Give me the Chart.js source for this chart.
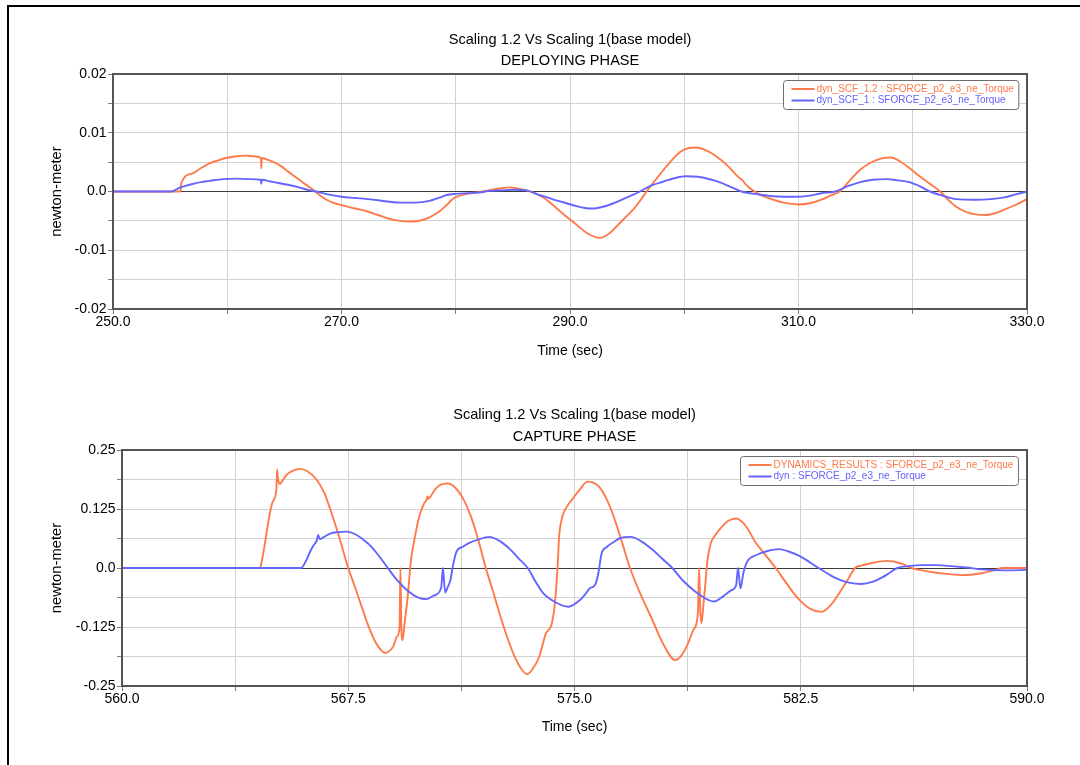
<!DOCTYPE html>
<html>
<head>
<meta charset="utf-8">
<title>Scaling 1.2 Vs Scaling 1(base model)</title>
<script src="https://cdn.jsdelivr.net/npm/chart.js@4.4.1/dist/chart.umd.min.js"></script>
<style>
  html, body { margin: 0; padding: 0; width: 1080px; height: 765px; overflow: hidden; background: #fff; }
  #frame { position: absolute; left: 7px; top: 5px; width: 1200px; height: 900px; border: 2px solid #000; }
  canvas { position: absolute; left: 0; }
  #deploy { top: 0; }
  #capture { top: 380px; }
</style>
</head>
<body>
<div id="frame"></div>
<canvas id="deploy" width="1080" height="380"></canvas>
<canvas id="capture" width="1080" height="385"></canvas>
<script>
// ---- text ----
const deployTitle = ['Scaling 1.2 Vs Scaling 1(base model)', 'DEPLOYING PHASE'];
const captureTitle = ['Scaling 1.2 Vs Scaling 1(base model)', 'CAPTURE PHASE'];
const timeAxisTitle = 'Time (sec)';
const torqueAxisTitle = 'newton-meter';

// ---- tick values and their labels ----
const deployXTicks = [250, 260, 270, 280, 290, 300, 310, 320, 330];
const deployXLabels = ['250.0', '', '270.0', '', '290.0', '', '310.0', '', '330.0'];
const deployYTicks = [-0.02, -0.015, -0.01, -0.005, 0, 0.005, 0.01, 0.015, 0.02];
const deployYLabels = ['-0.02', '', '-0.01', '', '0.0', '', '0.01', '', '0.02'];

const captureXTicks = [560, 563.75, 567.5, 571.25, 575, 578.75, 582.5, 586.25, 590];
const captureXLabels = ['560.0', '', '567.5', '', '575.0', '', '582.5', '', '590.0'];
const captureYTicks = [-0.25, -0.1875, -0.125, -0.0625, 0, 0.0625, 0.125, 0.1875, 0.25];
const captureYLabels = ['-0.25', '', '-0.125', '', '0.0', '', '0.125', '', '0.25'];

// ---- deploying phase: torque (newton-meter) vs time (sec) ----
const deployLabel12 = 'dyn_SCF_1.2 : SFORCE_p2_e3_ne_Torque';
const deployTime12 = [
  250, 255.2, 255.9, 255.97, 256.98, 257.7, 258.45, 259.2, 259.9, 260.8,
  261.66, 262.3, 262.95, 262.98, 263.02, 263.8, 264.57, 265.4, 266.3, 267.0,
  267.7, 268.2, 268.7, 269.4, 270.2, 271.2, 272.3, 273.2, 274.1, 275.1,
  276.1, 277.0, 277.7, 278.5, 279.2, 279.8, 280.2, 281.0, 282.0, 282.9,
  283.8, 284.7, 285.5, 286.2, 287.3, 288.0, 288.8, 289.7, 290.6, 291.5,
  292.6, 293.4, 294.2, 295.0, 295.6, 296.2, 296.7, 297.5, 298.2, 299.0,
  299.7, 300.4, 301.1, 301.8, 302.4, 303.2, 303.9, 304.6, 305.2, 305.3,
  305.6, 306.0, 306.5, 307.2, 307.8, 308.7, 310.0, 311.0, 312.0, 312.8,
  313.6, 314.5, 315.4, 316.3, 317.2, 318.1, 318.9, 319.7, 320.6, 321.5,
  322.4, 323.1, 323.8, 324.7, 325.5, 326.4, 327.2, 328.0, 329.0, 330.0];
const deployTorque12 = [
  0, 0, 0, 0.0014, 0.0031, 0.0040, 0.0048, 0.0053, 0.0057, 0.0060,
  0.0061, 0.0060, 0.0057, 0.0039, 0.0057, 0.0052, 0.0045, 0.0033, 0.0020, 0.0010,
  0, -0.0008, -0.0014, -0.0020, -0.0024, -0.0029, -0.0034, -0.0040, -0.0046, -0.0050,
  -0.0051, -0.0049, -0.0044, -0.0035, -0.0023, -0.0012, -0.0008, -0.0004, -0.0001, 0.0002,
  0.0005, 0.0007, 0.0005, 0.0002, -0.0006, -0.0015, -0.0028, -0.0043, -0.0057, -0.0071,
  -0.0079, -0.0072, -0.0057, -0.0041, -0.0029, -0.0014, 0, 0.0020, 0.0037, 0.0055,
  0.0068, 0.0074, 0.0075, 0.0071, 0.0065, 0.0054, 0.0042, 0.0027, 0.0017, 0.0014,
  0.0008, 0.0002, -0.0004, -0.0010, -0.0014, -0.0019, -0.0022, -0.0020, -0.0014, -0.0007,
  0, 0.0019, 0.0037, 0.0049, 0.0056, 0.0058, 0.0051, 0.0040, 0.0026, 0.0013,
  0, -0.0014, -0.0026, -0.0035, -0.0039, -0.0040, -0.0037, -0.0031, -0.0023, -0.0013];

const deployLabel1 = 'dyn_SCF_1 : SFORCE_p2_e3_ne_Torque';
const deployTime1 = [
  250, 255.1, 255.5, 255.8, 256.4, 257.0, 257.7, 258.45, 259.6, 260.8,
  261.9, 262.95, 262.98, 263.02, 263.8, 264.57, 265.4, 266.3, 267.0, 267.8,
  268.8, 270.0, 271.2, 272.3, 273.2, 274.0, 275.3, 276.5, 277.7, 278.5,
  279.2, 280.0, 281.0, 282.0, 283.0, 284.0, 285.0, 286.2, 287.3, 288.0,
  288.8, 289.7, 290.6, 291.3, 292.0, 292.9, 293.8, 294.4, 295.0, 295.6,
  296.1, 297.1, 298.2, 299.2, 300.1, 301.2, 302.4, 303.2, 303.9, 304.5,
  305.0, 306.5, 307.8, 309.6, 311.0, 312.0, 313.2, 314.3, 315.4, 316.5,
  317.7, 318.7, 319.7, 320.6, 321.5, 322.6, 323.8, 325.5, 326.8, 328.0,
  329.0, 330.0];
const deployTorque1 = [
  0, 0, 0.0003, 0.0006, 0.0010, 0.0013, 0.0016, 0.0018, 0.0021, 0.0022,
  0.0021, 0.0020, 0.0013, 0.0020, 0.0017, 0.0014, 0.0011, 0.0007, 0.0003, 0,
  -0.0005, -0.0009, -0.0011, -0.0013, -0.0015, -0.0017, -0.0019, -0.0019, -0.0016, -0.0011,
  -0.0006, -0.0004, -0.0003, -0.0002, 0.0001, 0.0002, 0.0003, 0.0002, -0.0006, -0.0010,
  -0.0015, -0.0020, -0.0025, -0.0028, -0.0029, -0.0026, -0.0020, -0.0015, -0.0010, -0.0005,
  0, 0.0010, 0.0017, 0.0023, 0.0026, 0.0025, 0.0020, 0.0015, 0.0009, 0.0004,
  0, -0.0005, -0.0008, -0.0009, -0.0007, -0.0003, 0, 0.0009, 0.0016, 0.0020,
  0.0021, 0.0019, 0.0016, 0.0009, 0, -0.0007, -0.0013, -0.0014, -0.0013, -0.0010,
  -0.0005, 0];

// ---- capture phase ----
const captureLabelResults = 'DYNAMICS_RESULTS : SFORCE_p2_e3_ne_Torque';
const captureTimeResults = [
  560, 564.57, 564.65, 564.73, 564.81, 564.89, 565.0, 565.12, 565.14, 565.17,
  565.22, 565.3, 565.45, 565.65, 565.9, 566.15, 566.45, 566.7, 566.9, 567.2,
  567.5, 567.75, 567.96, 568.2, 568.41, 568.6, 568.73, 568.88, 569.0, 569.12,
  569.2, 569.23, 569.26, 569.3, 569.36, 569.47, 569.58, 569.69, 569.84, 570.0,
  570.1, 570.13, 570.16, 570.35, 570.55, 570.8, 571.05, 571.3, 571.55, 571.8,
  572.06, 572.3, 572.5, 572.75, 573.03, 573.25, 573.43, 573.6, 573.83, 574.05,
  574.25, 574.36, 574.44, 574.49, 574.6, 574.75, 574.93, 575.2, 575.43, 575.62,
  575.82, 576.05, 576.26, 576.55, 576.84, 577.2, 577.56, 577.95, 578.33, 578.55,
  578.75, 578.95, 579.09, 579.13, 579.17, 579.21, 579.27, 579.32, 579.41, 579.52,
  579.67, 579.9, 580.1, 580.35, 580.6, 580.8, 580.98, 581.3, 581.67, 582.0,
  582.4, 582.8, 583.18, 583.5, 583.88, 584.1, 584.3, 584.5, 584.9, 585.36,
  585.8, 586.17, 586.6, 587.0, 587.87, 588.5, 588.9, 589.2, 590];
const captureTorqueResults = [
  0, 0, 0.020, 0.049, 0.082, 0.112, 0.141, 0.169, 0.208, 0.190,
  0.178, 0.183, 0.197, 0.206, 0.210, 0.205, 0.187, 0.160, 0.125, 0.066,
  0, -0.045, -0.085, -0.128, -0.158, -0.175, -0.180, -0.175, -0.165, -0.145,
  -0.126, 0, -0.125, -0.153, -0.121, -0.061, 0.017, 0.059, 0.106, 0.135,
  0.145, 0.152, 0.147, 0.164, 0.176, 0.179, 0.170, 0.148, 0.112, 0.062,
  0, -0.050, -0.093, -0.143, -0.190, -0.215, -0.225, -0.215, -0.188, -0.139,
  -0.117, -0.068, 0.003, 0.066, 0.109, 0.130, 0.146, 0.168, 0.183, 0.181,
  0.172, 0.148, 0.116, 0.060, 0, -0.057, -0.107, -0.162, -0.195, -0.185,
  -0.162, -0.130, -0.096, 0, -0.090, -0.117, -0.080, -0.047, 0.017, 0.053,
  0.070, 0.088, 0.100, 0.105, 0.095, 0.077, 0.056, 0.030, 0, -0.030,
  -0.064, -0.086, -0.093, -0.078, -0.043, -0.020, 0, 0.005, 0.011, 0.015,
  0.010, 0, -0.006, -0.010, -0.015, -0.011, -0.005, 0, 0];

const captureLabelDyn = 'dyn : SFORCE_p2_e3_ne_Torque';
const captureTimeDyn = [
  560, 565.94, 566.02, 566.1, 566.24, 566.35, 566.46, 566.5, 566.56, 566.7,
  566.9, 567.15, 567.44, 567.75, 568.0, 568.19, 568.5, 568.81, 569.15, 569.5,
  569.8, 570.08, 570.35, 570.58, 570.64, 570.71, 570.8, 570.89, 570.97, 571.09,
  571.3, 571.48, 571.8, 572.17, 572.5, 572.86, 573.15, 573.45, 573.7, 573.97,
  574.35, 574.8, 575.18, 575.35, 575.51, 575.68, 575.79, 575.9, 576.06, 576.3,
  576.5, 576.87, 577.2, 577.6, 577.9, 578.24, 578.6, 579.0, 579.3, 579.62,
  579.95, 580.2, 580.36, 580.42, 580.5, 580.6, 580.72, 581.05, 581.4, 581.77,
  582.1, 582.5, 583.09, 583.5, 583.8, 584.1, 584.5, 584.9, 585.2, 585.45,
  585.7, 586.1, 586.5, 587.0, 587.5, 588.0, 588.5, 589.3, 590];
const captureTorqueDyn = [
  0, 0, 0.006, 0.015, 0.035, 0.048, 0.059, 0.070, 0.061, 0.066,
  0.073, 0.076, 0.077, 0.071, 0.060, 0.050, 0.027, 0, -0.028, -0.050,
  -0.062, -0.066, -0.058, -0.042, 0, -0.052, -0.040, -0.025, 0.005, 0.035,
  0.045, 0.052, 0.060, 0.066, 0.058, 0.040, 0.020, 0, -0.028, -0.054,
  -0.072, -0.082, -0.068, -0.056, -0.043, -0.036, -0.011, 0.031, 0.044, 0.055,
  0.063, 0.066, 0.057, 0.038, 0.020, 0, -0.027, -0.050, -0.063, -0.071,
  -0.059, -0.047, -0.036, 0, -0.043, -0.010, 0.013, 0.028, 0.036, 0.040,
  0.035, 0.024, 0, -0.016, -0.025, -0.031, -0.034, -0.029, -0.020, -0.010,
  0, 0.004, 0.006, 0.006, 0.004, 0.001, -0.003, -0.005, -0.004];

// ---- styling ----
const FONT = '"Liberation Sans", Arial, Helvetica, sans-serif';
const ORANGE = '#ff7a4a';
const BLUE = '#6464ff';

const toPoints = (xs, ys) => xs.map((x, i) => ({ x: x, y: ys[i] }));

// Plot frame, boxed legend inside the plot and the two centred title lines.
const phasePanel = {
  id: 'phasePanel',
  afterDatasetsDraw(chart, args, opts) {
    const { ctx, chartArea: a } = chart;
    ctx.save();
    ctx.strokeStyle = '#555';
    ctx.lineWidth = 2;
    ctx.strokeRect(a.left, a.top, a.right - a.left, a.bottom - a.top);

    const sets = chart.data.datasets;
    ctx.font = '10px ' + FONT;
    const textW = Math.max(...sets.map(d => ctx.measureText(d.label).width));
    const w = 8 + 23 + 2 + textW + 5;
    const h = 29;
    const x = Math.round(a.right - 9 - w) + 0.5;
    const y = Math.round(a.top + 6) + 0.5;
    ctx.beginPath();
    ctx.roundRect(x, y, w, h, 3);
    ctx.fillStyle = '#fff';
    ctx.fill();
    ctx.strokeStyle = '#6e6e6e';
    ctx.lineWidth = 1;
    ctx.stroke();
    sets.forEach((d, i) => {
      const cy = y + 8.5 + i * 11.5;
      ctx.strokeStyle = d.borderColor;
      ctx.lineWidth = 2;
      ctx.beginPath();
      ctx.moveTo(x + 8, cy);
      ctx.lineTo(x + 31, cy);
      ctx.stroke();
      ctx.fillStyle = d.borderColor;
      ctx.textAlign = 'left';
      ctx.textBaseline = 'middle';
      ctx.fillText(d.label, x + 33, cy);
    });
    ctx.restore();
  },
  afterDraw(chart, args, opts) {
    const { ctx, chartArea: a } = chart;
    ctx.save();
    ctx.font = '14.6px ' + FONT;
    ctx.fillStyle = '#000';
    ctx.textAlign = 'center';
    ctx.textBaseline = 'middle';
    const cx = (a.left + a.right) / 2;
    opts.lines.forEach((t, i) => ctx.fillText(t, cx, opts.y[i]));
    ctx.restore();
  }
};

function buildPanel(canvasId, cfg) {
  const tickFont = { family: FONT, size: 14 };
  return new Chart(document.getElementById(canvasId), {
    type: 'line',
    data: {
      datasets: cfg.series.map((s, i) => ({
        label: s.label,
        data: toPoints(s.x, s.y),
        borderColor: s.color,
        backgroundColor: s.color,
        borderWidth: 1.9,
        pointRadius: 0,
        fill: false,
        cubicInterpolationMode: 'monotone',
        order: cfg.series.length - i
      }))
    },
    options: {
      responsive: false,
      animation: false,
      devicePixelRatio: 1,
      layout: { padding: { top: cfg.top, right: 53, bottom: 0, left: 0 } },
      plugins: {
        legend: { display: false },
        tooltip: { enabled: false },
        title: { display: false },
        phasePanel: { lines: cfg.title, y: cfg.titleY }
      },
      scales: {
        x: {
          type: 'linear',
          min: cfg.xTicks[0],
          max: cfg.xTicks[cfg.xTicks.length - 1],
          afterBuildTicks: scale => { scale.ticks = cfg.xTicks.map(v => ({ value: v })); },
          afterFit: scale => { scale.height = cfg.xHeight; },
          ticks: {
            autoSkip: false, maxRotation: 0, padding: 0,
            font: tickFont, color: '#000',
            callback: (v, i) => cfg.xLabels[i]
          },
          grid: { color: '#d2d2d2', lineWidth: 1, drawTicks: true, tickLength: 5, tickColor: '#7a7a7a' },
          border: { display: false },
          title: {
            display: true, text: timeAxisTitle, color: '#000',
            font: { family: FONT, size: 14 },
            padding: { top: 0, bottom: cfg.xTitlePad }
          }
        },
        y: {
          type: 'linear',
          min: cfg.yTicks[0],
          max: cfg.yTicks[cfg.yTicks.length - 1],
          afterBuildTicks: scale => { scale.ticks = cfg.yTicks.map(v => ({ value: v })); },
          afterFit: scale => { scale.width = cfg.yWidth; },
          ticks: {
            autoSkip: false, padding: 1.5,
            font: tickFont, color: '#000',
            callback: (v, i) => cfg.yLabels[i]
          },
          grid: {
            color: c => (c.tick && c.tick.value === 0) ? '#3c3c3c' : '#d2d2d2',
            lineWidth: 1, drawTicks: true, tickLength: 5, tickColor: '#7a7a7a'
          },
          border: { display: false },
          title: {
            display: true, text: torqueAxisTitle, color: '#000',
            font: { family: FONT, size: 14.8 },
            padding: { top: 48.4, bottom: 0 }
          }
        }
      }
    },
    plugins: [phasePanel]
  });
}

buildPanel('deploy', {
  title: deployTitle, titleY: [40, 61],
  top: 74, yWidth: 113, xHeight: 71, xTitlePad: 20.6,
  xTicks: deployXTicks, xLabels: deployXLabels,
  yTicks: deployYTicks, yLabels: deployYLabels,
  series: [
    { label: deployLabel12, x: deployTime12, y: deployTorque12, color: ORANGE },
    { label: deployLabel1, x: deployTime1, y: deployTorque1, color: BLUE }
  ]
});

buildPanel('capture', {
  title: captureTitle, titleY: [35, 57],
  top: 70, yWidth: 122, xHeight: 79, xTitlePad: 29.6,
  xTicks: captureXTicks, xLabels: captureXLabels,
  yTicks: captureYTicks, yLabels: captureYLabels,
  series: [
    { label: captureLabelResults, x: captureTimeResults, y: captureTorqueResults, color: ORANGE },
    { label: captureLabelDyn, x: captureTimeDyn, y: captureTorqueDyn, color: BLUE }
  ]
});
</script>
</body>
</html>
